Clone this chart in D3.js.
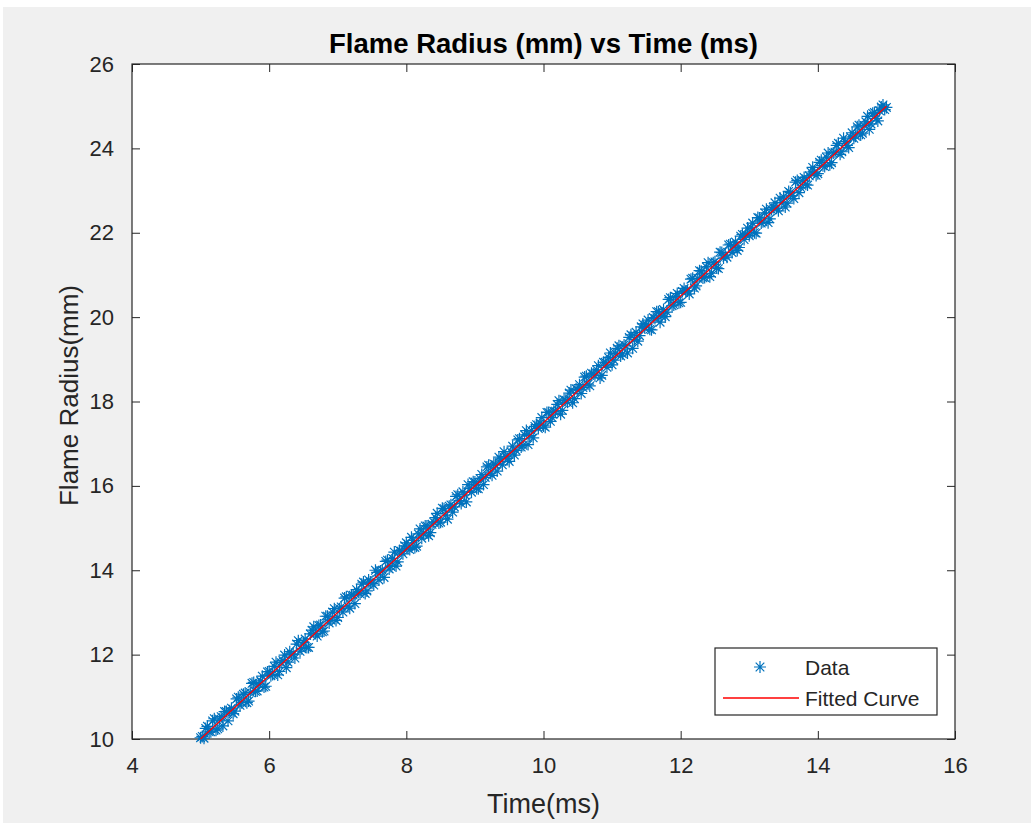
<!DOCTYPE html>
<html>
<head>
<meta charset="utf-8">
<script src="https://cdn.jsdelivr.net/npm/d3@7"></script>
<style>
body { margin: 0; background: #fff; }
text { font-family: "Liberation Sans", Arial, sans-serif; fill: #262626; }
</style>
</head>
<body>
<svg id="chart" width="1031" height="823"></svg>
<script>
// measured data: time (ms) and flame radius (mm), frames on the 0.05 ms grid
var timeMs = [
 5.00, 5.05, 5.10, 5.15, 5.20, 5.25, 5.30, 5.35, 5.40, 5.45,
 5.50, 5.55, 5.60, 5.65, 5.70, 5.75, 5.80, 5.85, 5.90, 5.95,
 6.00, 6.05, 6.10, 6.15, 6.20, 6.25, 6.30, 6.35, 6.40, 6.45,
 6.50, 6.55, 6.60, 6.65, 6.70, 6.75, 6.80, 6.85, 6.90, 6.95,
 7.00, 7.05, 7.10, 7.15, 7.20, 7.25, 7.30, 7.35, 7.40, 7.45,
 7.50, 7.55, 7.60, 7.65, 7.70, 7.75, 7.80, 7.85, 7.90, 7.95,
 8.00, 8.05, 8.10, 8.15, 8.20, 8.25, 8.30, 8.35, 8.40, 8.45,
 8.50, 8.55, 8.60, 8.65, 8.70, 8.75, 8.80, 8.85, 8.90, 8.95,
 9.00, 9.05, 9.10, 9.15, 9.20, 9.25, 9.30, 9.35, 9.40, 9.45,
 9.50, 9.55, 9.60, 9.65, 9.70, 9.75, 9.80, 9.85, 9.90, 9.95,
 10.00, 10.05, 10.10, 10.15, 10.20, 10.25, 10.30, 10.35, 10.40, 10.45,
 10.50, 10.55, 10.60, 10.65, 10.70, 10.75, 10.80, 10.85, 10.90, 10.95,
 11.00, 11.05, 11.10, 11.15, 11.20, 11.25, 11.30, 11.35, 11.40, 11.45,
 11.50, 11.55, 11.60, 11.65, 11.70, 11.75, 11.80, 11.85, 11.90, 11.95,
 12.00, 12.05, 12.10, 12.15, 12.20, 12.25, 12.30, 12.35, 12.40, 12.45,
 12.50, 12.55, 12.60, 12.65, 12.70, 12.75, 12.80, 12.85, 12.90, 12.95,
 13.00, 13.05, 13.10, 13.15, 13.20, 13.25, 13.30, 13.35, 13.40, 13.45,
 13.50, 13.55, 13.60, 13.65, 13.70, 13.75, 13.80, 13.85, 13.90, 13.95,
 14.00, 14.05, 14.10, 14.15, 14.20, 14.25, 14.30, 14.35, 14.40, 14.45,
 14.50, 14.55, 14.60, 14.65, 14.70, 14.75, 14.80, 14.85, 14.90, 14.95,
 15.00
];
var radiusMm = [
 10.03, 10.02, 10.30, 10.17, 10.48, 10.24, 10.53, 10.65, 10.43, 10.73,
 10.66, 10.99, 10.86, 11.09, 10.90, 11.32, 11.13, 11.30, 11.49, 11.25,
 11.60, 11.53, 11.82, 11.60, 11.86, 11.69, 12.07, 12.01, 12.25, 12.08,
 12.29, 12.17, 12.49, 12.66, 12.44, 12.70, 12.56, 12.91, 12.82, 13.09,
 12.88, 13.13, 13.34, 13.15, 13.41, 13.21, 13.48, 13.67, 13.45, 13.77,
 13.69, 14.00, 13.77, 14.00, 14.21, 14.03, 14.28, 14.10, 14.47, 14.39,
 14.65, 14.49, 14.71, 14.57, 14.98, 14.86, 15.05, 14.89, 15.14, 15.35,
 15.14, 15.46, 15.21, 15.55, 15.50, 15.79, 15.58, 15.79, 16.03, 15.85,
 16.09, 15.93, 16.27, 16.20, 16.49, 16.25, 16.50, 16.68, 16.50, 16.70,
 16.58, 16.94, 16.84, 17.12, 16.96, 17.31, 17.19, 17.14, 17.45, 17.49,
 17.42, 17.74, 17.53, 17.77, 17.93, 17.70, 18.04, 17.98, 18.27, 18.07,
 18.28, 18.19, 18.58, 18.41, 18.67, 18.61, 18.85, 18.62, 18.93, 19.04,
 18.87, 19.14, 19.32, 19.13, 19.32, 19.52, 19.26, 19.64, 19.56, 19.84,
 19.82, 19.71, 19.99, 20.13, 19.88, 20.18, 20.12, 20.46, 20.29, 20.56,
 20.35, 20.68, 20.62, 20.90, 20.69, 20.92, 21.09, 20.94, 21.29, 21.04,
 21.31, 21.15, 21.53, 21.47, 21.71, 21.53, 21.78, 21.65, 21.96, 21.96,
 21.93, 22.23, 21.99, 22.35, 22.26, 22.56, 22.33, 22.60, 22.58, 22.82,
 22.85, 22.70, 22.95, 22.81, 23.24, 23.07, 23.31, 23.13, 23.44, 23.44,
 23.40, 23.72, 23.57, 23.89, 23.66, 23.91, 24.12, 23.92, 24.16, 24.02,
 24.37, 24.29, 24.55, 24.36, 24.63, 24.45, 24.83, 24.71, 24.89, 25.03,
 24.97
];
// in-between frames (offset 0.025 ms)
var timeMsB = [
 5.025, 5.075, 5.125, 5.175, 5.225, 5.275, 5.325, 5.375, 5.425, 5.475,
 5.525, 5.575, 5.625, 5.675, 5.725, 5.775, 5.825, 5.875, 5.925, 5.975,
 6.025, 6.075, 6.125, 6.175, 6.225, 6.275, 6.325, 6.375, 6.425, 6.475,
 6.525, 6.575, 6.625, 6.675, 6.725, 6.775, 6.825, 6.875, 6.925, 6.975,
 7.025, 7.075, 7.125, 7.175, 7.225, 7.275, 7.325, 7.375, 7.425, 7.475,
 7.525, 7.575, 7.625, 7.675, 7.725, 7.775, 7.825, 7.875, 7.925, 7.975,
 8.025, 8.075, 8.125, 8.175, 8.225, 8.275, 8.325, 8.375, 8.425, 8.475,
 8.525, 8.575, 8.625, 8.675, 8.725, 8.775, 8.825, 8.875, 8.925, 8.975,
 9.025, 9.075, 9.125, 9.175, 9.225, 9.275, 9.325, 9.375, 9.425, 9.475,
 9.525, 9.575, 9.625, 9.675, 9.725, 9.775, 9.825, 9.875, 9.925, 9.975,
 10.025, 10.075, 10.125, 10.175, 10.225, 10.275, 10.325, 10.375, 10.425, 10.475,
 10.525, 10.575, 10.625, 10.675, 10.725, 10.775, 10.825, 10.875, 10.925, 10.975,
 11.025, 11.075, 11.125, 11.175, 11.225, 11.275, 11.325, 11.375, 11.425, 11.475,
 11.525, 11.575, 11.625, 11.675, 11.725, 11.775, 11.825, 11.875, 11.925, 11.975,
 12.025, 12.075, 12.125, 12.175, 12.225, 12.275, 12.325, 12.375, 12.425, 12.475,
 12.525, 12.575, 12.625, 12.675, 12.725, 12.775, 12.825, 12.875, 12.925, 12.975,
 13.025, 13.075, 13.125, 13.175, 13.225, 13.275, 13.325, 13.375, 13.425, 13.475,
 13.525, 13.575, 13.625, 13.675, 13.725, 13.775, 13.825, 13.875, 13.925, 13.975,
 14.025, 14.075, 14.125, 14.175, 14.225, 14.275, 14.325, 14.375, 14.425, 14.475,
 14.525, 14.575, 14.625, 14.675, 14.725, 14.775, 14.825, 14.875, 14.925, 14.975
];
var radiusMmB = [
 10.06, 10.25, 10.17, 10.43, 10.21, 10.47, 10.31, 10.65, 10.67, 10.60,
 10.95, 10.80, 11.06, 10.86, 11.10, 11.34, 11.14, 11.38, 11.23, 11.59,
 11.50, 11.72, 11.52, 11.81, 11.99, 11.82, 12.01, 11.92, 12.33, 12.14,
 12.37, 12.17, 12.58, 12.50, 12.69, 12.54, 12.91, 12.75, 13.01, 12.81,
 13.09, 13.01, 13.37, 13.10, 13.41, 13.54, 13.44, 13.72, 13.51, 13.72,
 13.65, 13.95, 13.98, 13.83, 14.24, 14.09, 14.43, 14.20, 14.45, 14.58,
 14.52, 14.78, 14.54, 14.86, 14.76, 15.05, 14.82, 15.09, 15.25, 15.12,
 15.47, 15.31, 15.52, 15.38, 15.75, 15.65, 15.86, 15.62, 15.94, 16.10,
 15.94, 16.17, 16.03, 16.45, 16.30, 16.52, 16.35, 16.64, 16.81, 16.65,
 16.81, 16.73, 17.09, 16.92, 17.21, 16.98, 17.31, 17.41, 17.36, 17.62,
 17.39, 17.74, 17.62, 17.77, 18.02, 17.79, 18.03, 18.20, 17.97, 18.30,
 18.40, 18.33, 18.60, 18.37, 18.65, 18.75, 18.56, 18.93, 18.81, 19.15,
 18.98, 19.26, 19.08, 19.34, 19.15, 19.58, 19.47, 19.43, 19.77, 19.75,
 19.93, 19.70, 19.97, 20.13, 20.02, 20.01, 20.42, 20.27, 20.49, 20.34,
 20.61, 20.62, 20.55, 20.92, 20.74, 21.10, 20.93, 21.19, 20.96, 21.29,
 21.17, 21.54, 21.40, 21.42, 21.73, 21.68, 21.58, 21.92, 21.84, 22.11,
 22.13, 22.00, 22.36, 22.23, 22.47, 22.24, 22.55, 22.71, 22.52, 22.72,
 22.61, 22.98, 22.88, 23.20, 22.95, 23.24, 23.15, 23.35, 23.55, 23.36,
 23.67, 23.59, 23.79, 23.61, 23.89, 24.07, 23.86, 24.24, 24.07, 24.27,
 24.24, 24.51, 24.32, 24.54, 24.76, 24.58, 24.85, 24.65, 24.98, 24.92
];
// fitted line endpoints
var fitTime = [5, 15];
var fitRadius = [10.0, 25.0];

var xTicks = [4, 6, 8, 10, 12, 14, 16];
var yTicks = [10, 12, 14, 16, 18, 20, 22, 24, 26];
var legendLabels = ["Data", "Fitted Curve"];

var margin = {top: 64, right: 76, bottom: 84, left: 132};
var width = 1031, height = 823;
var w = width - margin.left - margin.right; // 823
var h = height - margin.top - margin.bottom; // 675

var svg = d3.select("#chart");

// figure background (thin white strip on top/left like the screenshot)
svg.append("rect")
    .attr("x", 3).attr("y", 7)
    .attr("width", width - 3).attr("height", height - 7)
    .attr("fill", "#f0f0f0");

var chart = svg.append("g")
    .attr("transform", "translate(" + margin.left + "," + margin.top + ")");

var x = d3.scaleLinear().domain([4, 16]).range([0, w]);
var y = d3.scaleLinear().domain([10, 26]).range([h, 0]);

chart.append("rect")
    .attr("width", w).attr("height", h)
    .attr("fill", "#fff");

var axisColor = "#262626";
var tickLen = 8;

function styleAxis(g) {
    g.select(".domain").remove();
    g.selectAll(".tick line").attr("stroke", axisColor);
    g.selectAll(".tick text")
        .attr("fill", axisColor)
        .style("font-size", "22px")
        .style("font-family", "'Liberation Sans', Arial, sans-serif");
}

// bottom axis, ticks inward
chart.append("g")
    .attr("transform", "translate(0," + h + ")")
    .call(d3.axisBottom(x).tickValues(xTicks).tickSizeInner(-tickLen).tickSizeOuter(0).tickPadding(18))
    .call(styleAxis);
// top ticks (mirror)
chart.append("g")
    .call(d3.axisTop(x).tickValues(xTicks).tickSizeInner(-tickLen).tickSizeOuter(0).tickFormat(""))
    .call(styleAxis);
// left axis
chart.append("g")
    .call(d3.axisLeft(y).tickValues(yTicks).tickSizeInner(-tickLen).tickSizeOuter(0).tickPadding(18))
    .call(styleAxis);
// right ticks (mirror)
chart.append("g")
    .attr("transform", "translate(" + w + ",0)")
    .call(d3.axisRight(y).tickValues(yTicks).tickSizeInner(-tickLen).tickSizeOuter(0).tickFormat(""))
    .call(styleAxis);

// box
chart.append("rect")
    .attr("width", w).attr("height", h)
    .attr("fill", "none")
    .attr("stroke", axisColor)
    .attr("stroke-width", 1.2);

// data as asterisk markers
var blue = "#0072BD";
var star = "M-6,0H6M0,-6V6M-4.3,-4.3L4.3,4.3M-4.3,4.3L4.3,-4.3";
var data = timeMs.map(function(t, i) { return {t: t, r: radiusMm[i]}; })
    .concat(timeMsB.map(function(t, i) { return {t: t, r: radiusMmB[i]}; }));

chart.append("g")
    .selectAll("path")
    .data(data)
    .enter().append("path")
    .attr("transform", function(d) { return "translate(" + x(d.t) + "," + y(d.r) + ")"; })
    .attr("d", star)
    .attr("fill", "none")
    .attr("stroke", blue)
    .attr("stroke-width", 1.2);

// fitted line
var line = d3.line()
    .x(function(d) { return x(d[0]); })
    .y(function(d) { return y(d[1]); });
chart.append("path")
    .datum(fitTime.map(function(t, i) { return [t, fitRadius[i]]; }))
    .attr("d", line)
    .attr("fill", "none")
    .attr("stroke", "#ff0000")
    .attr("stroke-width", 1.3);

// title and labels
svg.append("text")
    .attr("x", margin.left + w / 2)
    .attr("y", 53)
    .attr("text-anchor", "middle")
    .style("font-size", "27.5px")
    .style("font-weight", "bold")
    .style("fill", "#000")
    .text("Flame Radius (mm) vs Time (ms)");

svg.append("text")
    .attr("x", margin.left + w / 2)
    .attr("y", 813)
    .attr("text-anchor", "middle")
    .style("font-size", "27px")
    .text("Time(ms)");

svg.append("text")
    .attr("transform", "translate(78," + (margin.top + h / 2 - 6) + ") rotate(-90)")
    .attr("text-anchor", "middle")
    .style("font-size", "26px")
    .text("Flame Radius(mm)");

// legend
var lg = svg.append("g");
lg.append("rect")
    .attr("x", 715).attr("y", 648)
    .attr("width", 222).attr("height", 67)
    .attr("fill", "#fff")
    .attr("stroke", axisColor)
    .attr("stroke-width", 1.2);
lg.append("path")
    .attr("transform", "translate(760,667)")
    .attr("d", star)
    .attr("fill", "none")
    .attr("stroke", blue)
    .attr("stroke-width", 1.2);
lg.append("line")
    .attr("x1", 723).attr("x2", 799)
    .attr("y1", 698).attr("y2", 698)
    .attr("stroke", "#ff0000")
    .attr("stroke-width", 1.3);
lg.selectAll("text.lab")
    .data(legendLabels)
    .enter().append("text")
    .attr("class", "lab")
    .attr("x", 805)
    .attr("y", function(d, i) { return 675 + i * 31; })
    .style("font-size", "21px")
    .text(function(d) { return d; });
</script>
</body>
</html>
